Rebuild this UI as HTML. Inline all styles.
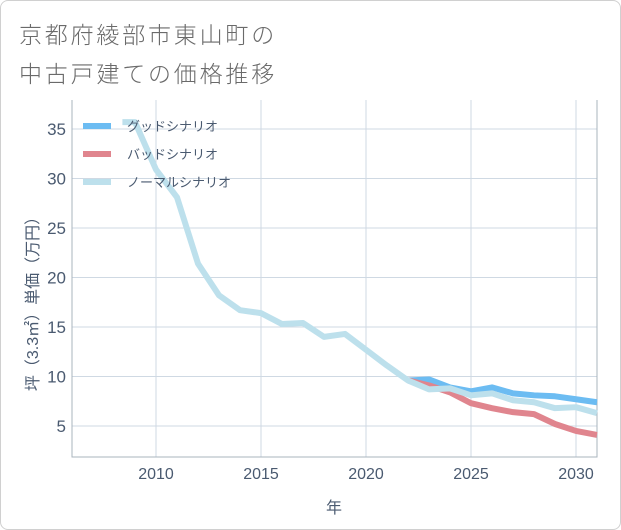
<!DOCTYPE html>
<html><head><meta charset="utf-8"><style>
body{margin:0;background:#fff;}
#wrap{position:relative;width:619px;height:528px;border:1px solid #d0d0d0;border-radius:8px;overflow:hidden;background:#fff;font-family:"Liberation Sans","Noto Sans CJK JP",sans-serif;}
.title{position:absolute;left:18px;font-size:23px;color:#6a6a6a;letter-spacing:2.8px;font-weight:300;}
</style></head><body>
<div id="wrap">
<div class="title" style="top:15px">京都府綾部市東山町の</div>
<div class="title" style="top:54px">中古戸建ての価格推移</div>
<svg id="chart" width="621" height="530" style="position:absolute;left:-1px;top:-1px"></svg>
</div>
<script>
const xTicks=[2010,2015,2020,2025,2030];
const yTicks=[5,10,15,20,25,30,35];
const normalYears=[2008.4,2009,2010,2011,2012,2013,2014,2015,2016,2017,2018,2019,2020,2021,2022,2023,2024,2025,2026,2027,2028,2029,2030,2031];
const normalVals=[35.7,35.7,30.9,28.1,21.4,18.2,16.7,16.4,15.3,15.4,14.0,14.3,12.7,11.1,9.6,8.7,8.8,8.1,8.3,7.6,7.4,6.8,6.9,6.3];
const futureYears=[2022,2023,2024,2025,2026,2027,2028,2029,2030,2031];
const goodVals=[9.6,9.7,8.9,8.5,8.9,8.3,8.1,8.0,7.7,7.4];
const badVals=[9.6,9.1,8.4,7.3,6.8,6.4,6.2,5.2,4.5,4.1];
const seriesNames=["グッドシナリオ","バッドシナリオ","ノーマルシナリオ"];

const L=72,R=597,T=100,B=457;
const x=v=>156+(v-2010)*21;
const y=v=>426-(v-5)*9.9;
const svg=document.getElementById('chart');
const NS='http://www.w3.org/2000/svg';
function mk(t,a){const e=document.createElementNS(NS,t);for(const k in a)e.setAttribute(k,a[k]);svg.appendChild(e);return e;}
xTicks.forEach(t=>{
 const g=mk('line',{x1:x(t),x2:x(t),y1:T,y2:B,stroke:'#cfd9e3','stroke-width':1});
 
 
 const tx=mk('text',{x:x(t),y:479,'text-anchor':'middle','font-size':16,fill:'#4a5a70'});
 tx.textContent=t;
 
 
});
yTicks.forEach(t=>{
 const g=mk('line',{x1:L,x2:R,y1:y(t),y2:y(t),stroke:'#cfd9e3','stroke-width':1});
 
 
 const tx=mk('text',{x:66,y:y(t)+6,'text-anchor':'end','font-size':17,fill:'#4a5a70'});
 tx.textContent=t;
 
 
});
const ax=mk('path',{d:`M${L},${T}V${B}H${R}V${T}`,fill:'none',stroke:'#aab4be','stroke-width':1});


function line(xs,vs,c,name){
 const p=mk('polyline',{points:xs.map((a,i)=>x(a)+','+y(vs[i])).join(' '),fill:'none',stroke:c,'stroke-width':6,'stroke-linejoin':'round'});
 
 
}
line(futureYears,goodVals,'#6cbcf2','good-scenario-line');
line(futureYears,badVals,'#e0858e','bad-scenario-line');
line(normalYears,normalVals,'#bde0ec','normal-scenario-line');
const cols=['#6cbcf2','#e0858e','#bde0ec'];
seriesNames.forEach((n,i)=>{
 const yy=126+i*28;
 const s=mk('line',{x1:83,x2:111,y1:yy,y2:yy,stroke:cols[i],'stroke-width':6});
 
 
 const t=mk('text',{x:127,y:yy+5,'font-size':13,fill:'#4a5a70'});
 t.textContent=n;
 
 
});
const xt=mk('text',{x:334,y:513,'text-anchor':'middle','font-size':16,fill:'#4a5a70'});
xt.textContent='年';


const yt=mk('text',{x:0,y:0,'text-anchor':'middle','font-size':16,fill:'#4a5a70',transform:'translate(38,300) rotate(-90)'});
yt.textContent='坪（3.3㎡）単価（万円）';


</script>
</body></html>
